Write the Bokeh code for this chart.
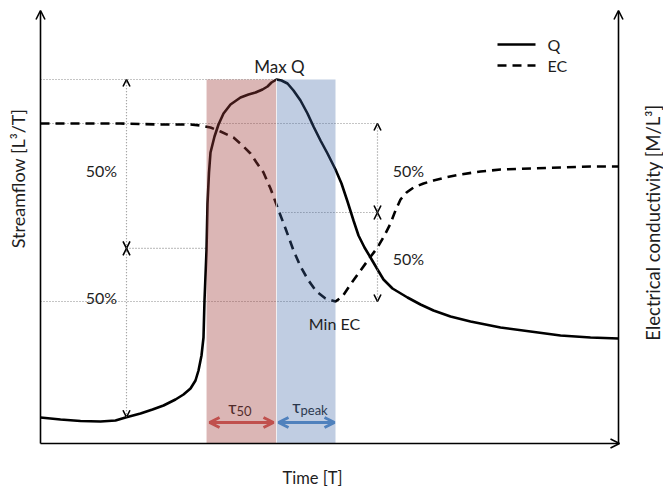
import numpy as np
from bokeh.plotting import figure
from bokeh.models import Range1d, Arrow, OpenHead
from bokeh.core.properties import value
from bokeh.embed import file_html
from bokeh.resources import INLINE

# Storm-event hydrograph (Q) and chemograph (EC), arbitrary units
time_q = [0, 20, 40, 60, 75, 85, 100, 112, 123, 135, 143, 150, 155, 158, 161, 163,
          164, 166, 167, 168.5, 170, 174, 178, 183, 190, 200, 208, 215, 222, 227,
          231, 236, 241, 247, 253, 260, 267, 273, 280, 287, 295, 301, 307, 313,
          318, 324, 330, 337, 343, 352, 367, 380, 393, 410, 430, 460, 490, 520,
          550, 578]
flow_q = [26, 24, 22.5, 22, 23, 26, 30, 34, 38, 44, 49, 55, 63, 73, 88, 106,
          143, 193, 240, 271, 291, 307, 319, 330, 339, 346, 349, 351, 354, 357,
          361, 364, 363, 360, 353, 343, 330, 317, 303, 290, 274, 260, 242, 223,
          208, 196, 186, 174, 164, 155, 146, 139, 133, 127, 122, 116, 112, 108,
          106, 105]

time_ec = [0, 40, 80, 120, 150, 160, 170, 180, 193, 202, 210, 216, 223, 230,
           237, 245, 253, 260, 268, 276, 285, 295, 302, 310, 320, 328, 337, 344,
           350, 355, 360, 366, 373, 383, 393, 405, 420, 440, 460, 490, 520, 550,
           578]
cond_ec = [320, 320, 320, 319, 319, 318, 316, 312, 306, 298, 290, 281, 271,
           255, 236, 215, 193, 177, 163, 152, 145, 142, 147, 159, 173, 184, 196,
           208, 220, 233, 244, 251, 256, 260, 263, 266, 269, 272, 274, 275, 276,
           277, 277]

x_label = "Time [T]"
y_label = "Streamflow [L³/T]"
y2_label = "Electrical conductivity [M/L³]"
legend_labels = ["Q", "EC"]

# Layout constants (data units)
T_END = 578          # right axis position
Y_TOP = 433          # top of both vertical axes
T_Q_ARROW = 86       # time of the left 50 % bracket
T_EC_ARROW = 337     # time of the right 50 % bracket

FONT = value("Lato")
TXT = "#1e1e1e"
DOT = "#8a8a8a"
RED = "#c0504d"
BLUE = "#4f81bd"

# Characteristic values derived from the series
tq = np.array(time_q, float)
fq = np.array(flow_q, float)
te = np.array(time_ec, float)
ce = np.array(cond_ec, float)

i_peak = int(np.argmax(fq))
q_max, t_peak = fq[i_peak], tq[i_peak]
q_base = float(np.interp(T_Q_ARROW, tq, fq))
q_half = (q_max + q_base) / 2
i_low = int(np.argmin(fq[:i_peak]))
t_q_half = float(np.interp(q_half, fq[i_low:i_peak + 1], tq[i_low:i_peak + 1]))

i_min = int(np.argmin(ce))
ec_max, ec_min = ce.max(), ce[i_min]
t_ec_min = te[i_min]
ec_half = (ec_max + ec_min) / 2
fall_t, fall_c = te[:i_min + 1][::-1], ce[:i_min + 1][::-1]
t_ec_half = float(np.interp(ec_half, fall_c, fall_t))

p = figure(width=663, height=488, x_range=Range1d(-40, 623), y_range=Range1d(-45, 443),
           x_axis_type=None, y_axis_type=None, toolbar_location=None,
           output_backend="svg", min_border=0, outline_line_color=None,
           background_fill_color="white", border_fill_color="white")

# Dotted reference levels
p.segment(x0=[0, 0, T_Q_ARROW, 0, t_ec_half],
          y0=[q_max, ec_max, q_half, ec_min, ec_half],
          x1=[t_peak, T_EC_ARROW, t_q_half, T_EC_ARROW, T_EC_ARROW],
          y1=[q_max, ec_max, q_half, ec_min, ec_half],
          line_color=DOT, line_width=1.2, line_dash="1 2")

# Series
p.line(time_q, flow_q, line_color="black", line_width=2.6)
p.line(time_ec, cond_ec, line_color="black", line_width=2.6, line_dash="9 6")

# Time-lag labels (under the shading)
p.text(x=[t_q_half + 26], y=[37], text=["τ"], text_font=FONT, text_font_size="18px",
       text_color=TXT, text_align="center", text_baseline="middle")
p.text(x=[t_q_half + 30], y=[33], text=["50"], text_font=FONT, text_font_size="13px",
       text_color=TXT, text_align="left", text_baseline="middle")
p.text(x=[t_peak + 20], y=[38], text=["τ"], text_font=FONT, text_font_size="18px",
       text_color=TXT, text_align="center", text_baseline="middle")
p.text(x=[t_peak + 24], y=[34], text=["peak"], text_font=FONT, text_font_size="13px",
       text_color=TXT, text_align="left", text_baseline="middle")

# Shaded lag windows
p.quad(left=[t_q_half], right=[t_peak], bottom=[0], top=[q_max],
       fill_color="#a0403d", fill_alpha=0.38, line_color=None)
p.quad(left=[t_peak], right=[t_ec_min], bottom=[0], top=[q_max],
       fill_color="#3f66a8", fill_alpha=0.33, line_color=None)
p.segment(x0=[t_peak], y0=[0], x1=[t_peak], y1=[q_max], line_color="white",
          line_width=1, line_alpha=0.7)

# Lag arrows
for x0, x1, col in [(t_q_half + 3, t_peak - 3, RED), (t_peak + 2, t_ec_min - 1, BLUE)]:
    p.add_layout(Arrow(start=OpenHead(size=10, line_width=3, line_color=col),
                       end=OpenHead(size=10, line_width=3, line_color=col),
                       x_start=x0, y_start=21, x_end=x1, y_end=21,
                       line_color=col, line_width=3))

# 50 % brackets
def bracket(x, y0, y1):
    p.add_layout(Arrow(start=OpenHead(size=7, line_width=1.6, line_color="black"),
                       end=OpenHead(size=7, line_width=1.6, line_color="black"),
                       x_start=x, y_start=y0, x_end=x, y_end=y1,
                       line_color=DOT, line_width=1.2, line_dash="1 2"))

bracket(T_Q_ARROW, q_half, q_max)
bracket(T_Q_ARROW, q_half, q_base)
bracket(T_EC_ARROW, ec_half, ec_max)
bracket(T_EC_ARROW, ec_half, ec_min)

# Axes drawn as arrows
ax_head = dict(size=9, line_width=1.6, line_color="black")
p.add_layout(Arrow(end=OpenHead(**ax_head), x_start=0, y_start=0, x_end=0, y_end=Y_TOP,
                   line_width=1.6, line_color="black"))
p.add_layout(Arrow(end=OpenHead(**ax_head), x_start=T_END, y_start=0, x_end=T_END,
                   y_end=Y_TOP, line_width=1.6, line_color="black"))
p.add_layout(Arrow(end=OpenHead(**ax_head), x_start=0, y_start=0, x_end=T_END + 1,
                   y_end=0, line_width=1.6, line_color="black"))

# Annotation texts
p.text(x=[61, 61, 368, 368], y=[273, 146, 273, 185], text=["50%"] * 4,
       text_font=FONT, text_font_size="16px", text_color=TXT,
       text_align="center", text_baseline="middle")
p.text(x=[t_peak + 3], y=[q_max + 13], text=["Max Q"], text_font=FONT,
       text_font_size="17px", text_color=TXT, text_align="center",
       text_baseline="middle")
p.text(x=[t_ec_min - 1], y=[ec_min - 22], text=["Min EC"], text_font=FONT,
       text_font_size="16px", text_color=TXT, text_align="center",
       text_baseline="middle")

# Axis titles
p.text(x=[272], y=[-34], text=[x_label], text_font=FONT, text_font_size="16.5px",
       text_color=TXT, text_align="center", text_baseline="middle")
p.text(x=[-23], y=[265], text=[y_label], text_font=FONT, text_font_size="18px",
       text_color=TXT, text_align="center", text_baseline="middle", angle=np.pi / 2)
p.text(x=[612], y=[221], text=[y2_label], text_font=FONT, text_font_size="18.5px",
       text_color=TXT, text_align="center", text_baseline="middle", angle=np.pi / 2)

# Legend
p.segment(x0=[457], y0=[399], x1=[495], y1=[399], line_color="black", line_width=2.6)
p.segment(x0=[457], y0=[378], x1=[495], y1=[378], line_color="black", line_width=2.6,
          line_dash="9 6")
p.text(x=[507, 507], y=[399, 378], text=legend_labels, text_font=FONT,
       text_font_size="16px", text_color=TXT, text_align="left", text_baseline="middle")

open("out.html", "w").write(file_html(p, INLINE))
